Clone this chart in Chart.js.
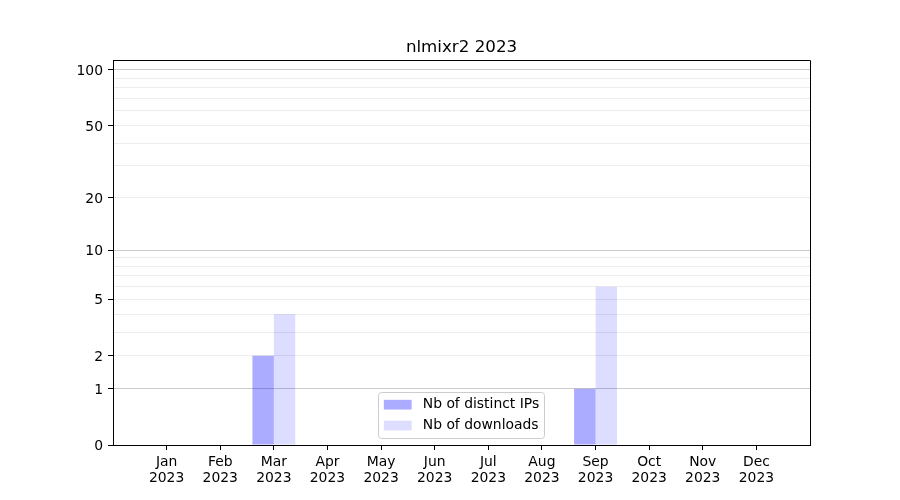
<!DOCTYPE html>
<html>
<head>
<meta charset="utf-8">
<script src="https://cdn.jsdelivr.net/npm/chart.js@4"></script>
<style>body{margin:0;background:#fff}</style>
</head>
<body>
<canvas id="dlGraph" width="900" height="500"></canvas>
<script>
// values
var months = ["Jan","Feb","Mar","Apr","May","Jun","Jul","Aug","Sep","Oct","Nov","Dec"];
var year = "2023";
var ipsData = [0,0,2,0,0,0,0,0,1,0,0,0];
var downloadsData = [0,0,4,0,0,0,0,0,6,0,0,0];
var yLabelTicks = [0,1,2,5,10,20,50,100];
var yMajorGrid = [1,10,100];
var yMinorGrid = [2,3,4,5,6,7,8,9,20,30,40,50,60,70,80,90];
var yMax = 113;

// y axis that maps values through log10(1 + v)
class Log1pScale extends Chart.LinearScale {
    getPixelForValue(v) {
        var a = Math.log10(1 + this.min), b = Math.log10(1 + this.max);
        return this.getPixelForDecimal((Math.log10(1 + v) - a) / (b - a));
    }
    getValueForPixel(p) {
        var a = Math.log10(1 + this.min), b = Math.log10(1 + this.max);
        return Math.pow(10, a + this.getDecimalForPixel(p) * (b - a)) - 1;
    }
}
Log1pScale.id = 'log1p';
Log1pScale.defaults = {};
Chart.register(Log1pScale);

Chart.defaults.font.family = '"DejaVu Sans", sans-serif';
Chart.defaults.color = '#000';

// pad one empty slot on each side like matplotlib's margins
var xLabels = [""].concat(months.map(function(m){ return [m, year]; })).concat([""]);
var ipsSeries = [null].concat(ipsData).concat([null]);
var dlSeries = [null].concat(downloadsData).concat([null]);

var yTickValues = yLabelTicks.concat(yMinorGrid).filter(function(v, i, arr){ return arr.indexOf(v) === i; })
    .sort(function(a, b){ return a - b; });

var frameBox = {
    id: 'frameBox',
    afterDraw: function(chart) {
        var a = chart.chartArea, ctx = chart.ctx;
        ctx.save();
        ctx.strokeStyle = '#000';
        ctx.lineWidth = 1;
        ctx.beginPath();
        ctx.moveTo(Math.round(a.left) + 0.5, Math.round(a.top) + 0.5);
        ctx.lineTo(Math.round(a.right) + 0.5, Math.round(a.top) + 0.5);
        ctx.lineTo(Math.round(a.right) + 0.5, Math.round(a.bottom) + 0.5);
        ctx.stroke();
        ctx.restore();
    }
};

var insideLegend = {
    id: 'insideLegend',
    afterDraw: function(chart) {
        var ctx = chart.ctx, a = chart.chartArea, fs = 13.9;
        var sets = chart.data.datasets;
        ctx.save();
        ctx.font = fs + 'px "DejaVu Sans"';
        var textW = 0;
        sets.forEach(function(d){ textW = Math.max(textW, ctx.measureText(d.label).width); });
        var pad = 0.4 * fs, hw = 2 * fs, hh = 0.7 * fs, gap = 0.8 * fs, rowH = fs, sp = 0.5 * fs;
        var w = pad + hw + gap + textW + pad;
        var h = pad * 2 + sets.length * rowH + (sets.length - 1) * sp;
        var x = (a.left + a.right) / 2 - w / 2, y = a.bottom - 0.5 * fs - h;
        ctx.beginPath();
        ctx.roundRect(Math.round(x) + 0.5, Math.round(y) + 0.5, Math.round(w), Math.round(h), 3);
        ctx.fillStyle = 'rgba(255,255,255,0.8)';
        ctx.fill();
        ctx.strokeStyle = '#cccccc';
        ctx.lineWidth = 1;
        ctx.stroke();
        sets.forEach(function(d, i){
            var cy = y + pad + i * (rowH + sp) + rowH / 2;
            ctx.fillStyle = d.backgroundColor;
            ctx.fillRect(x + pad, cy - hh / 2, hw, hh);
            ctx.fillStyle = '#000';
            ctx.textBaseline = 'middle';
            ctx.textAlign = 'left';
            ctx.fillText(d.label, x + pad + hw + gap, cy);
        });
        ctx.restore();
    }
};

var dlConfig = {
    type: 'bar',
    data: {
        labels: xLabels,
        datasets: [{
            label: 'Nb of distinct IPs',
            data: ipsSeries,
            backgroundColor: 'rgba(0,0,255,0.33)',
            borderWidth: 0
        }, {
            label: 'Nb of downloads',
            data: dlSeries,
            backgroundColor: 'rgba(0,0,255,0.135)',
            borderWidth: 0
        }]
    },
    options: {
        responsive: false,
        animation: false,
        layout: { padding: { left: 0, right: 90, top: 0, bottom: 0 } },
        datasets: { bar: { categoryPercentage: 0.8, barPercentage: 1.0 } },
        scales: {
            x: {
                type: 'category',
                offset: false,
                afterFit: function(s){ s.height = 55; },
                grid: {
                    offset: false,
                    drawOnChartArea: false,
                    tickLength: 5,
                    tickColor: function(c){ return (c.index === 0 || c.index === xLabels.length - 1) ? 'rgba(0,0,0,0)' : '#000'; }
                },
                border: { color: '#000', width: 1 },
                ticks: { autoSkip: false, maxRotation: 0, padding: 4, font: { size: 13.9, lineHeight: 1.15 } }
            },
            y: {
                type: 'log1p',
                min: 0,
                max: yMax,
                bounds: 'data',
                afterFit: function(s){ s.width = 113; },
                afterBuildTicks: function(s){ s.ticks = yTickValues.map(function(v){ return { value: v }; }); },
                grid: {
                    tickLength: 5,
                    lineWidth: 1,
                    color: function(c){
                        var v = c.tick ? c.tick.value : null;
                        if (v === 0) return 'rgba(0,0,0,0)';
                        return yMajorGrid.indexOf(v) >= 0 ? '#cbcbcb' : '#ececec';
                    },
                    tickColor: function(c){
                        return (c.tick && yLabelTicks.indexOf(c.tick.value) >= 0) ? '#000' : 'rgba(0,0,0,0)';
                    }
                },
                border: { color: '#000', width: 1 },
                ticks: {
                    autoSkip: false,
                    padding: 5,
                    labelOffset: 1.5,
                    font: { size: 13.9 },
                    callback: function(v){ return yLabelTicks.indexOf(v) >= 0 ? String(v) : ''; }
                }
            }
        },
        plugins: {
            legend: { display: false },
            tooltip: { enabled: false },
            title: {
                display: true,
                fullSize: false,
                text: 'nlmixr2 2023',
                color: '#000',
                font: { size: 16.7, weight: 'normal', lineHeight: 1.2 },
                padding: { top: 38, bottom: 2 }
            }
        }
    },
    plugins: [frameBox, insideLegend]
};

var dlCtx = document.getElementById("dlGraph");
var dlChart = new Chart(dlCtx, dlConfig);
</script>
</body>
</html>
